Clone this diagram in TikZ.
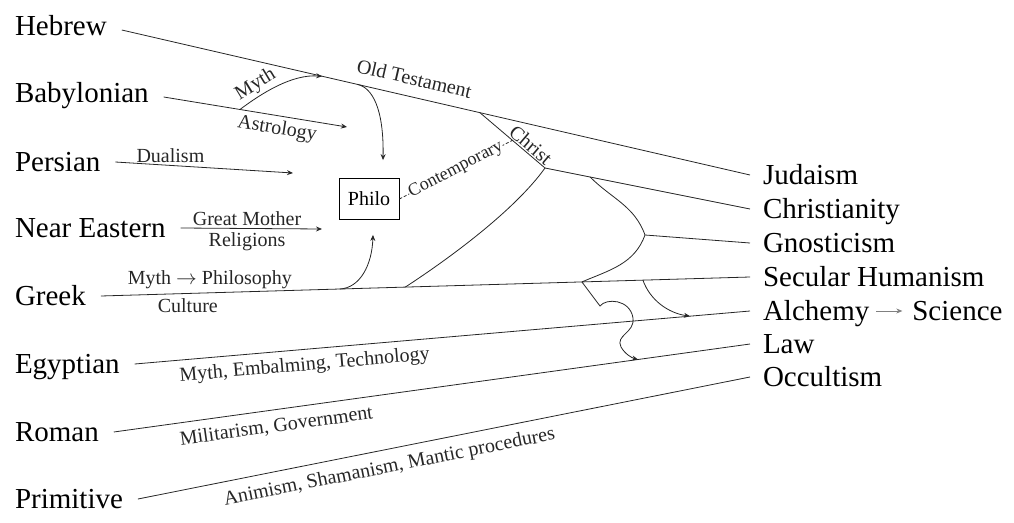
\documentclass[tikz,border=0pt]{standalone}
\usepackage{fontspec}
\setmainfont{Liberation Serif}
\usetikzlibrary{positioning, arrows.meta, calc}

\begin{document}
\begin{tikzpicture}[
    x=1pt, y=1pt,
    culture/.style={anchor=west, inner xsep=15pt, inner ysep=0pt, outer sep=0pt,
                    text height=19pt, text depth=0pt, font=\fontsize{29}{31}\selectfont},
    outcome/.style={culture, inner xsep=13pt},
    note/.style={font=\fontsize{20}{22}\selectfont, inner sep=2pt},
    link/.style={line width=0.8pt, black!85},
    arr/.style={link, -{Stealth[length=6pt, width=5pt]}},
  ]
  \useasboundingbox (0,0) rectangle (1014,-522);

  % Source cultures
  \node[culture] (hebrew) at (0,-26) {Hebrew};
  \node[culture] (babylonian) at (0,-93) {Babylonian};
  \node[culture] (persian) at (0,-162) {Persian};
  \node[culture] (neareast) at (0,-228) {Near Eastern};
  \node[culture] (greek) at (0,-296) {Greek};
  \node[culture] (egyptian) at (0,-364) {Egyptian};
  \node[culture] (roman) at (0,-432) {Roman};
  \node[culture] (primitive) at (0,-499) {Primitive};

  % Outcomes
  \node[outcome] (judaism) at (750,-175) {Judaism};
  \node[outcome] (christianity) at (750,-209) {Christianity};
  \node[outcome] (gnosticism) at (750,-243) {Gnosticism};
  \node[outcome] (secular) at (750,-277) {Secular Humanism};
  \node[outcome] (alchemy) at (750,-311) {Alchemy};
  \node[outcome, right=17pt of alchemy] (science) {Science};
  \node[outcome] (law) at (750,-344) {Law};
  \node[outcome] (occultism) at (750,-377) {Occultism};

  % Philo
  \node[draw, line width=0.8pt, minimum width=60pt, minimum height=41pt,
        font=\fontsize{20}{22}\selectfont] (philo) at (369,-199) {Philo};

  % Free ends of the arrows towards Philo
  \coordinate (astroend) at (347,-127);
  \coordinate (dualend) at (293,-173);
  \coordinate (motherend) at (322,-229);
  \coordinate (christ) at (545,-168);
  \coordinate (gno) at (645,-235);

  % Main streams
  \draw[link] ([yshift=-4pt]hebrew.east)
     -- coordinate[pos=0.319] (hebmyth) coordinate[pos=0.376] (hebphilo)
        coordinate[pos=0.570] (christtop)
        node[note, pos=0.459, sloped, above=9pt] {Old Testament} (judaism.west);
  \draw[arr] ([yshift=-4pt]babylonian.east)
     -- coordinate[pos=0.416] (babsplit)
        node[note, pos=0.63, sloped, below=2pt] {Astrology} (astroend);
  \draw[arr] (persian.east) -- node[note, pos=0.31, above=0pt] {Dualism} (dualend);
  \draw[arr] (neareast.east) -- node[note, pos=0.47, above=0pt] {Great Mother}
     node[note, pos=0.47, below=2pt] {Religions} (motherend);
  \draw[link] (greek.east)
     -- coordinate[pos=0.368] (greekphilo) coordinate[pos=0.469] (greekchrist)
        coordinate[pos=0.741] (greekgno) coordinate[pos=0.835] (greekalc)
        node[note, pos=0.168, above=2pt] {Myth $\rightarrow$ Philosophy}
        node[note, pos=0.134, below=3pt] {Culture} (secular.west);
  \draw[link] (egyptian.east)
     -- coordinate[pos=0.9025] (egyalc)
        node[note, pos=0.274, sloped, below=5pt] {Myth, Embalming, Technology} (alchemy.west);
  \draw[link] (roman.east)
     -- coordinate[pos=0.824] (lawarr)
        node[note, pos=0.252, sloped, below=6pt] {Militarism, Government} (law.west);
  \draw[link] (primitive.east)
     -- node[note, pos=0.405, sloped, below=7pt] {Animism, Shamanism, Mantic procedures} (occultism.west);

  % Into Philo
  \draw[arr] (babsplit) .. controls (262,-93) and (292,-74) .. (hebmyth)
     node[note, pos=0.3, sloped, above=0pt] {Myth};
  \draw[arr] (hebphilo) .. controls (372,-88) and (384,-108) .. ($(philo.north)+(14,18)$);
  \draw[arr] (greekphilo) .. controls (360,-288) and (372,-265) .. ($(philo.south)+(4,-15)$);

  % Christ and Contemporary
  \draw[link] (christtop) -- coordinate[pos=0.5] (contend)
     node[note, pos=0.7, sloped, above=0pt, inner sep=1pt] {Christ} (christ);
  \draw[link, dash pattern=on 3pt off 2pt] (philo.east)
     -- node[note, sloped, fill=white, inner sep=0.5pt, font=\fontsize{18}{20}\selectfont] {Contemporary} (contend);
  \draw[link] (greekchrist) .. controls (450,-258) and (515,-210) .. (christ);
  \draw[link] (christ) -- coordinate[pos=0.22] (gnotop) (christianity.west);

  % Gnosticism
  \draw[link] (gnotop) to[out=-45, in=110] (gno) to[out=-110, in=23] (greekgno);
  \draw[link] (gno) -- (gnosticism.west);

  % Alchemy and Law branches
  \draw[arr] (greekalc) .. controls (650,-300) and (668,-313) .. (egyalc);
  \draw[arr] (greekgno) -- (600,-306) .. controls (606,-298) and (630,-299) .. (633,-318)
     .. controls (635,-333) and (615,-335) .. (621,-347)
     .. controls (625,-354) and (632,-358) .. (lawarr);
  \draw[arr, line width=0.5pt, gray, shorten <=-6pt, shorten >=-3pt] (alchemy.east) -- (science.west);
\end{tikzpicture}
\end{document}
